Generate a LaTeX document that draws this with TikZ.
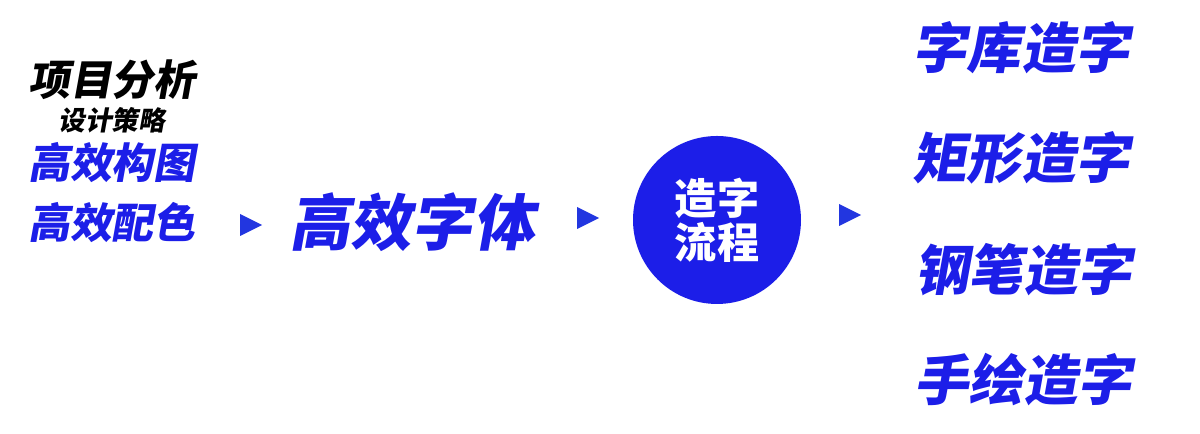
\documentclass[tikz,border=0pt]{standalone}
\usepackage{fontspec}
\usepackage{tikz}
\usetikzlibrary{shapes.geometric}

\newfontfamily\cjk{Noto Sans CJK SC Black}[FakeSlant=0.18]
\newfontfamily\cjkup{Noto Sans CJK SC Black}

\definecolor{zblue}{HTML}{1C1EE8}
\definecolor{tblue}{HTML}{2236E0}

\tikzset{
	title/.style={inner sep=0pt, font=\cjk\fontsize{11.9pt}{12pt}\selectfont},
	pointer/.style={isosceles triangle, isosceles triangle stretches, fill=tblue, inner sep=0pt, minimum width=0.22cm, minimum height=0.22cm},
	way/.style={title, text=zblue, font=\cjk\fontsize{15.5pt}{16pt}\selectfont}
}

\begin{document}
\begin{tikzpicture}
		
		\useasboundingbox (0,0) rectangle (12,4.34);
		
		% left column
		
		\node[title] 
		(analyse) at (1.12,3.54) {项目分析};
		
		\node[title, font=\cjk\fontsize{7.6pt}{8pt}\selectfont] 
		(strategy) at (1.12,3.14) {设计策略};
		
		\node[title, text=zblue] 
		(layout) at (1.12,2.71) {高效构图};
		
		\node[title, text=zblue] 
		(colour) at (1.12,2.11) {高效配色};
		
		% middle
		
		\node[pointer] (arrow1) at (2.47,2.09) {};
		
		\node[title, text=zblue, font=\cjk\fontsize{17.4pt}{18pt}\selectfont] 
		(type) at (4.12,2.12) {高效字体};
		
		\node[pointer] (arrow2) at (5.84,2.16) {};
		
		\node[circle, fill=zblue, minimum size=1.68cm, inner sep=0pt] 
		(flow) at (7.17,2.14) {};
		\node[align=center, text=white, inner sep=0pt, font=\cjkup\fontsize{12pt}{11.2pt}\selectfont] 
		(flowText) at (flow.center) {造字\\流程};
		
		\node[pointer] (arrow3) at (8.46,2.19) {};
		
		% right column
		
		\node[way] (library) at (10.21,3.86) {字库造字};
		\node[way] (rect) at (10.21,2.76) {矩形造字};
		\node[way] (pen) at (10.23,1.64) {钢笔造字};
		\node[way] (hand) at (10.23,0.54) {手绘造字};
		
	\end{tikzpicture}
\end{document}
